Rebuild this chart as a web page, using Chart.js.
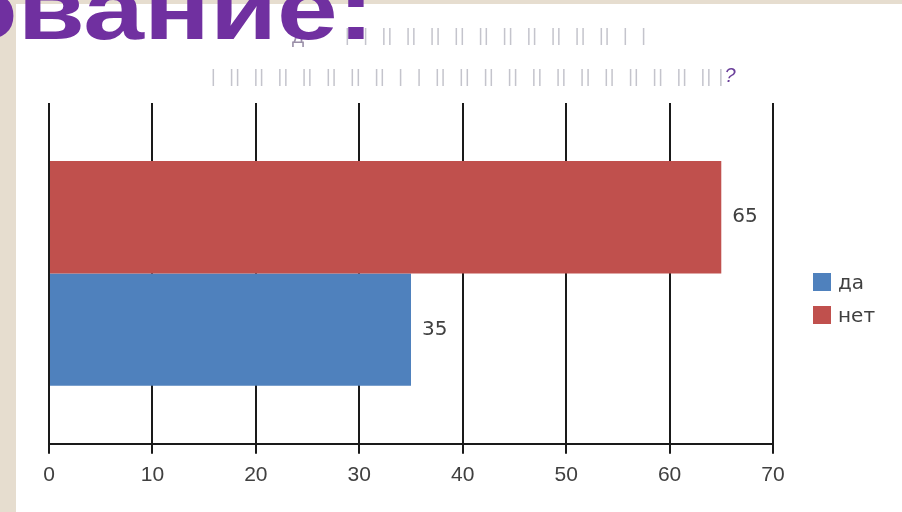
<!DOCTYPE html>
<html>
<head>
<meta charset="utf-8">
<script src="https://cdn.jsdelivr.net/npm/chart.js@4.4.1/dist/chart.umd.min.js"></script>
<style>
  html, body { margin: 0; padding: 0; }
  body { width: 902px; height: 512px; background: #e6ddcf; position: relative; overflow: hidden; }
  #panel { position: absolute; left: 16px; top: 4px; right: 0; bottom: 0; background: #fff; }
  #chart { position: absolute; left: 0; top: 0; }
  .title { position: absolute; left: -49px; top: -35px; font: bold 88px "Liberation Sans", Arial, sans-serif;
           line-height: 1; color: #7030a0; white-space: nowrap;
           transform: scaleX(1.24); transform-origin: 0 0; }
  .tofu { position: absolute; font: 18px "Liberation Sans", Arial, sans-serif; color: #c4c4cc;
          white-space: pre; letter-spacing: 1.2px; }
  .q { color: #6a3f9a; font-style: italic; font-size: 20px; }
  .legend { position: absolute; left: 813px; font: 20px "DejaVu Sans", sans-serif; color: #404040; }
  .legend div { height: 33px; display: flex; align-items: center; }
  .legend span.box { width: 18px; height: 18px; margin-right: 7px; display: inline-block; }
</style>
</head>
<body>
<div id="panel"></div>
<canvas id="chart" width="902" height="512"></canvas>
<div class="tofu" style="left:292px; top:27px; color:#9a8fa8;">Д</div>
<div class="tofu" style="left:345px; top:25px;">|  |  ||  ||  ||  ||  ||  ||  ||  ||  ||  ||  |  |</div>
<div class="tofu" style="left:211px; top:64px;">|  ||  ||  ||  ||  ||  ||  ||  |  |  ||  ||  ||  ||  ||  ||  ||  ||  ||  ||  ||  || |<span class="q">?</span></div>
<div class="title">ование:</div>
<div class="legend" id="legend" style="top:265px;"></div>
<script>
const categories = [''];
const seriesNames = ['да', 'нет'];
const daValues = [35];
const netValues = [65];
const seriesColors = ['#4f81bd', '#c0504d'];
const xMin = 0;
const xMax = 70;
const xStep = 10;

function buildLegend() {
  const legend = document.getElementById('legend');
  seriesNames.forEach((name, i) => {
    const row = document.createElement('div');
    row.innerHTML = '<span class="box" style="background:' + seriesColors[i] + '"></span>' + name;
    legend.appendChild(row);
  });
}

// value labels to the right of each bar
const valueLabels = {
  id: 'valueLabels',
  afterDatasetsDraw(chart) {
    const ctx = chart.ctx;
    ctx.save();
    ctx.font = '20px "DejaVu Sans", sans-serif';
    ctx.fillStyle = '#404040';
    ctx.textAlign = 'left';
    ctx.textBaseline = 'middle';
    chart.data.datasets.forEach((ds, i) => {
      chart.getDatasetMeta(i).data.forEach((bar, j) => {
        ctx.fillText(String(ds.data[j]), bar.x + 11, bar.y);
      });
    });
    ctx.restore();
  }
};

function main() {
  buildLegend();
  // top bar first (нет), then да
  new Chart(document.getElementById('chart'), {
    type: 'bar',
    data: {
      labels: categories,
      datasets: [
        { label: seriesNames[1], data: netValues, backgroundColor: seriesColors[1] },
        { label: seriesNames[0], data: daValues, backgroundColor: seriesColors[0] }
      ]
    },
    options: {
      indexAxis: 'y',
      responsive: false,
      animation: false,
      categoryPercentage: 0.66,
      barPercentage: 1,
      layout: { padding: { left: 49, right: 129, top: 103, bottom: 15 } },
      plugins: { legend: { display: false }, tooltip: { enabled: false } },
      scales: {
        x: {
          min: xMin,
          max: xMax,
          ticks: {
            stepSize: xStep,
            color: '#404040',
            padding: 9,
            font: { family: '"Liberation Sans", Arial, sans-serif', size: 21 }
          },
          grid: { color: '#1a1a1a', lineWidth: 2, tickLength: 10 },
          border: { display: true, color: '#1a1a1a', width: 2 }
        },
        y: { display: false }
      }
    },
    plugins: [valueLabels]
  });
}

main();
</script>
</body>
</html>
